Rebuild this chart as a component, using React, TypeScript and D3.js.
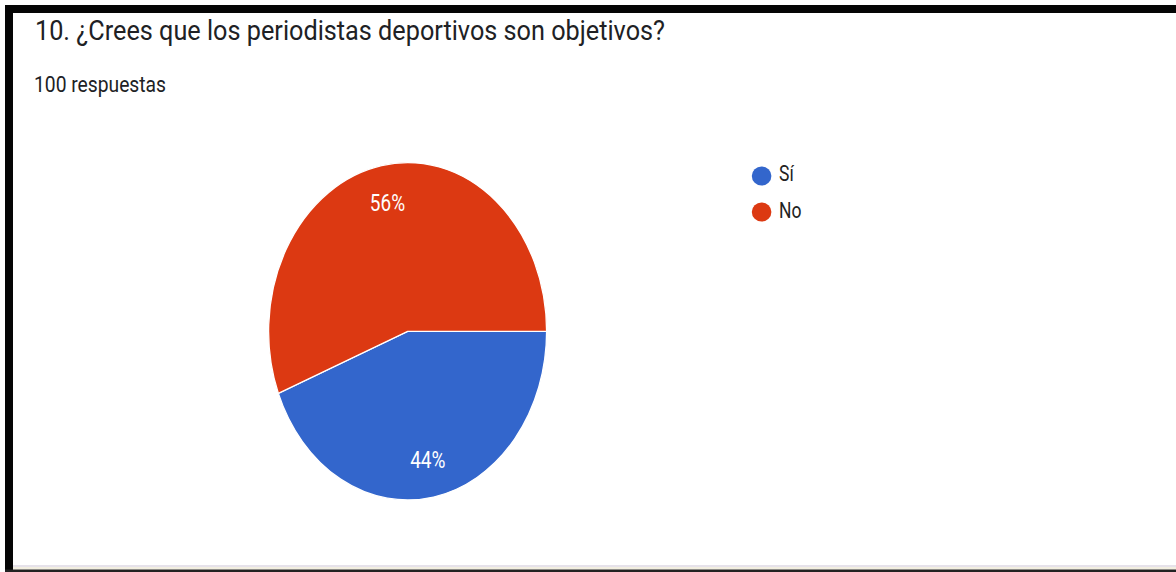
import React from "react";
import * as d3 from "d3";

const categories = ["Sí", "No"];
const values = [44, 56];
const colors = ["#3366cc", "#dc3912"];
const title = "10. ¿Crees que los periodistas deportivos son objetivos?";
const subtitle = "100 respuestas";

const W = 1176;
const H = 572;
const K = 1.2137; // vertical stretch of the screenshot
const cx = 407.6;
const cy = 331.3;
const R = 139;

export default function App() {
  const pie = d3
    .pie<number>()
    .sort(null)
    .value((d) => d)
    .startAngle(Math.PI / 2)
    .endAngle(Math.PI / 2 + 2 * Math.PI);
  const arcs = pie(values);
  const arc = d3.arc<d3.PieArcDatum<number>>().innerRadius(0).outerRadius(R);
  const labelArc = d3
    .arc<d3.PieArcDatum<number>>()
    .innerRadius(R * 0.775)
    .outerRadius(R * 0.775);
  const total = d3.sum(values);
  const font = "Roboto, 'Noto Sans', sans-serif";

  return (
    <svg
      width={W}
      height={H}
      style={{ position: "absolute", left: 0, top: 0, display: "block", background: "#fff" }}
    >
      <rect x={0} y={0} width={W} height={H} fill="#fff" />
      {/* frame */}
      <rect x={5} y={5} width={8} height={565} fill="#050505" />
      <rect x={5} y={5} width={W - 5} height={8} fill="#050505" />
      <rect x={13} y={565} width={W - 13} height={2} fill="#e6e2ea" />
      <rect x={13} y={567} width={W - 13} height={2.5} fill="#f2eee0" />
      <rect x={5} y={569.5} width={W - 5} height={2.5} fill="#222" />

      <text
        transform={`translate(35,40) scale(1,${K})`}
        fontFamily={font}
        fontSize={23}
        fill="#202124"
        textLength={630}
        lengthAdjust="spacingAndGlyphs"
      >
        {title}
      </text>
      <text
        transform={`translate(34,92) scale(1,${K})`}
        fontFamily={font}
        fontSize={18.5}
        fill="#202124"
        textLength={132}
        lengthAdjust="spacingAndGlyphs"
      >
        {subtitle}
      </text>

      <g transform={`translate(${cx},${cy}) scale(1,${K})`}>
        {arcs.map((a, i) => (
          <path
            key={categories[i]}
            d={arc(a) || ""}
            fill={colors[i]}
            stroke="#fff"
            strokeWidth={1.3}
            vectorEffect="non-scaling-stroke"
          />
        ))}
      </g>
      {arcs.map((a, i) => {
        const [lx, ly] = labelArc.centroid(a);
        return (
          <text
            key={"l" + i}
            transform={`translate(${cx + lx},${cy + ly * K}) scale(1,${K})`}
            fontFamily={font}
            fontSize={19}
            fill="#fff"
            textAnchor="middle"
            dy="0.36em"
          >
            {Math.round((values[i] / total) * 100) + "%"}
          </text>
        );
      })}

      {categories.map((c, i) => (
        <g key={"lg" + c}>
          <ellipse cx={761.6} cy={176 + i * 36} rx={9.8} ry={9.5} fill={colors[i]} />
          <text
            transform={`translate(779,${181 + i * 37}) scale(1,${K})`}
            fontFamily={font}
            fontSize={17.5}
            fill="#222"
          >
            {c}
          </text>
        </g>
      ))}
    </svg>
  );
}
